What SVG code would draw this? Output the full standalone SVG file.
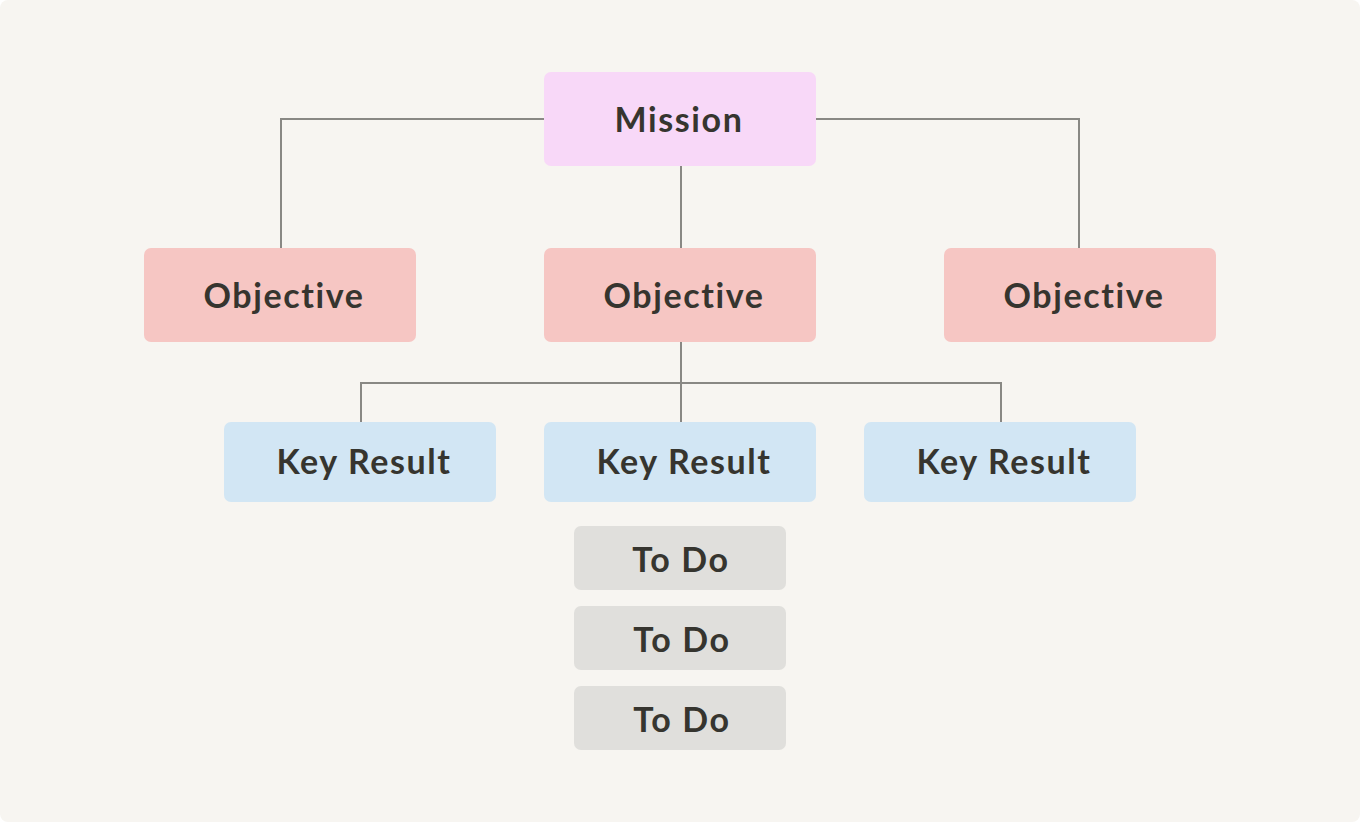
<svg xmlns="http://www.w3.org/2000/svg" width="1360" height="822" viewBox="0 0 1360 822">
  <style>
    .box { stroke: none; }
    .mission { fill: #f8d8f8; }
    .objective { fill: #f6c6c3; }
    .kr { fill: #d2e6f4; }
    .todo { fill: #e0dfdc; }
    .label { font-family: "Lato", "Liberation Sans", sans-serif; font-weight: 700; font-size: 34px; letter-spacing: 1.6px; fill: #36352f; text-anchor: middle; }
    .link { fill: none; stroke: #898884; stroke-width: 2; }
  </style>
  <rect x="0" y="0" width="1360" height="822" fill="#ffffff"/>
  <rect x="0" y="0" width="1360" height="822" rx="8" fill="#f7f5f1"/>

  <g id="connectors">
    <path class="link" d="M544 119 H281 V248"/>
    <path class="link" d="M816 119 H1079 V248"/>
    <path class="link" d="M681 166 V248"/>
    <path class="link" d="M681 342 V422"/>
    <path class="link" d="M361 422 V383 H1001 V422"/>
  </g>

  <g id="mission">
    <rect class="box mission" x="544" y="72" width="272" height="94" rx="7"/>
    <text class="label" x="679" y="132">Mission</text>
  </g>

  <g id="objective-left">
    <rect class="box objective" x="144" y="248" width="272" height="94" rx="7"/>
    <text class="label" x="284" y="308">Objective</text>
  </g>
  <g id="objective-center">
    <rect class="box objective" x="544" y="248" width="272" height="94" rx="7"/>
    <text class="label" x="684" y="308">Objective</text>
  </g>
  <g id="objective-right">
    <rect class="box objective" x="944" y="248" width="272" height="94" rx="7"/>
    <text class="label" x="1084" y="308">Objective</text>
  </g>

  <g id="key-result-left">
    <rect class="box kr" x="224" y="422" width="272" height="80" rx="7"/>
    <text class="label" x="364" y="474">Key Result</text>
  </g>
  <g id="key-result-center">
    <rect class="box kr" x="544" y="422" width="272" height="80" rx="7"/>
    <text class="label" x="684" y="474">Key Result</text>
  </g>
  <g id="key-result-right">
    <rect class="box kr" x="864" y="422" width="272" height="80" rx="7"/>
    <text class="label" x="1004" y="474">Key Result</text>
  </g>

  <g id="todo-1">
    <rect class="box todo" x="574" y="526" width="212" height="64" rx="7"/>
    <text class="label" x="681" y="572">To Do</text>
  </g>
  <g id="todo-2">
    <rect class="box todo" x="574" y="606" width="212" height="64" rx="7"/>
    <text class="label" x="682" y="652">To Do</text>
  </g>
  <g id="todo-3">
    <rect class="box todo" x="574" y="686" width="212" height="64" rx="7"/>
    <text class="label" x="682" y="732">To Do</text>
  </g>
</svg>
